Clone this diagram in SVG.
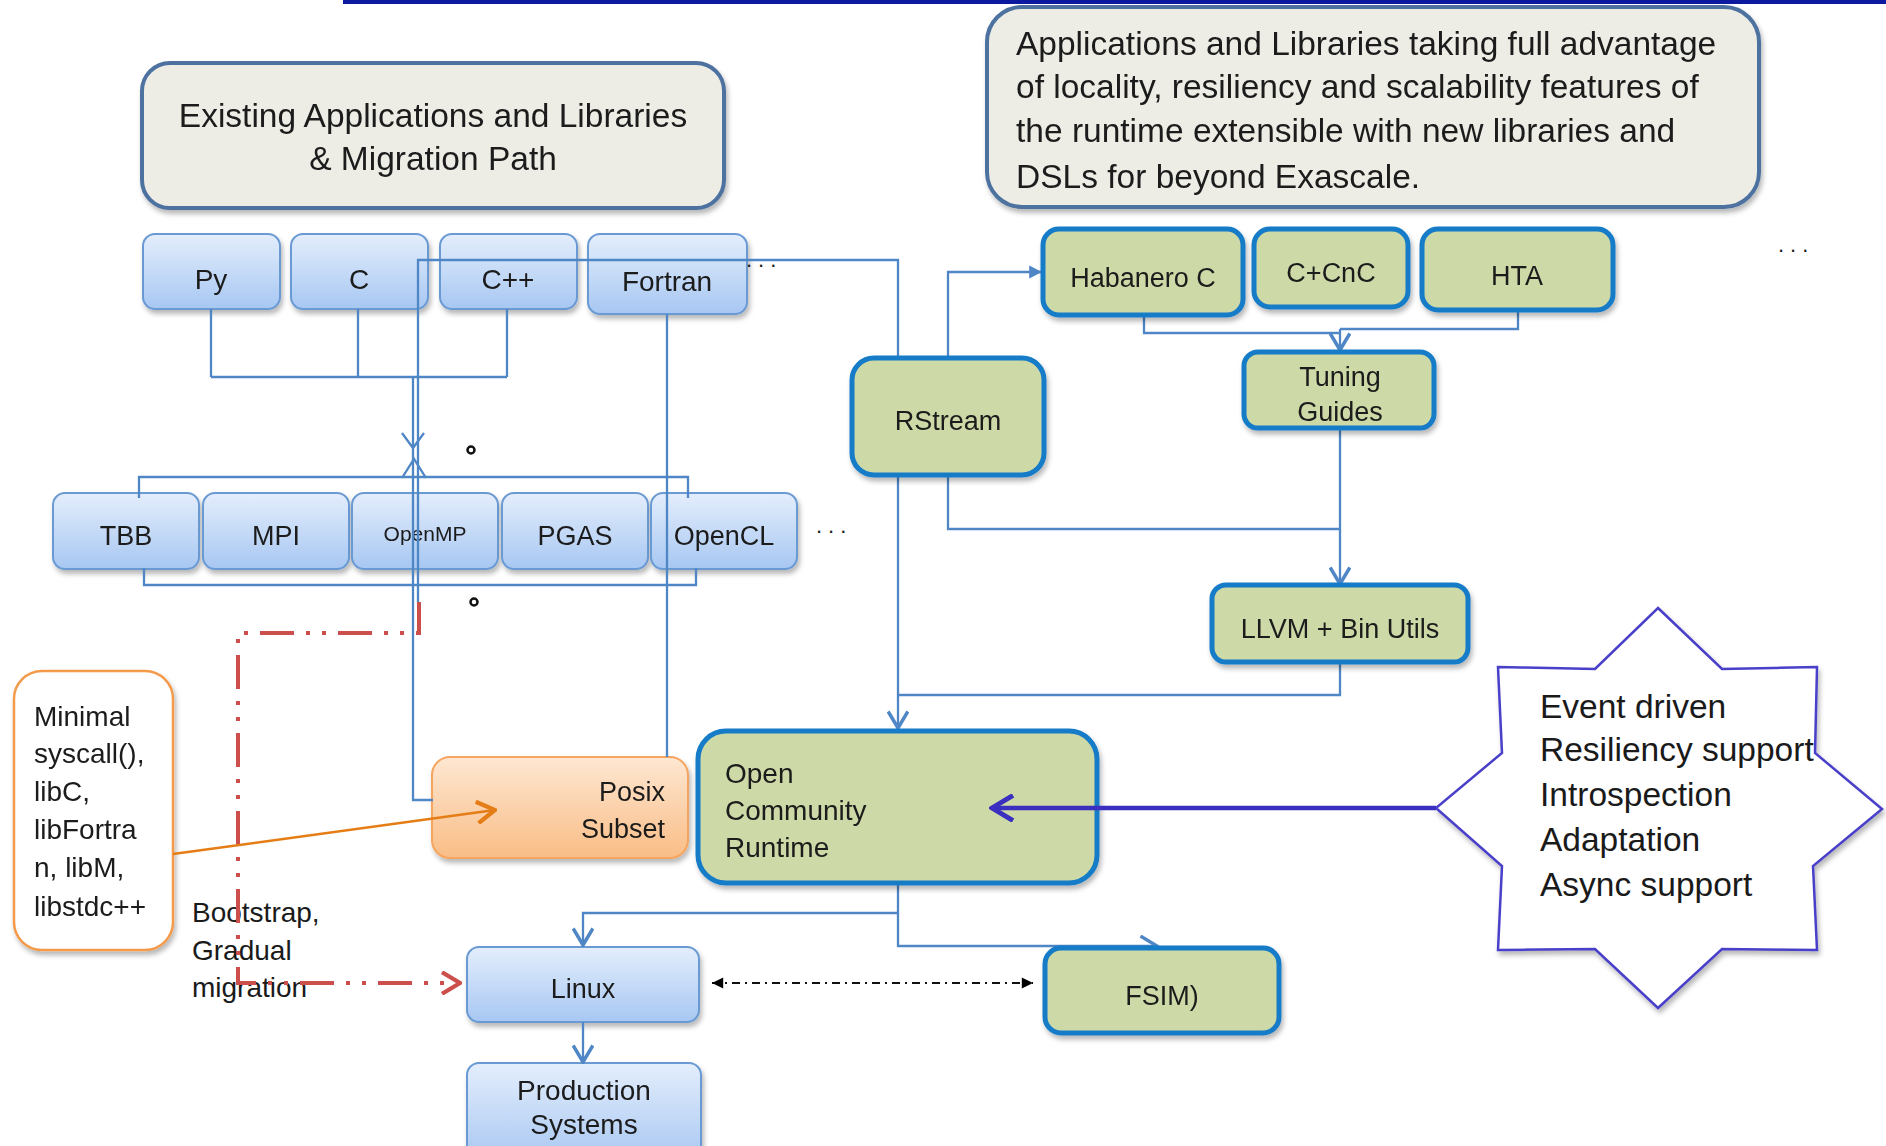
<svg xmlns="http://www.w3.org/2000/svg" width="1886" height="1146" viewBox="0 0 1886 1146">
<defs>
<linearGradient id="gBlue" x1="0" y1="0" x2="0" y2="1"><stop offset="0" stop-color="#e4eefc"/><stop offset="1" stop-color="#a7c7f2"/></linearGradient>
<linearGradient id="gOrange" x1="0" y1="0" x2="0" y2="1"><stop offset="0" stop-color="#fee7d2"/><stop offset="1" stop-color="#f9bd86"/></linearGradient>
<filter id="sh" x="-10%" y="-10%" width="130%" height="140%"><feDropShadow dx="2" dy="4" stdDeviation="2.5" flood-color="#000" flood-opacity="0.28"/></filter>
<marker id="aBlue" viewBox="0 0 20 20" refX="18" refY="10" markerWidth="22" markerHeight="22" markerUnits="userSpaceOnUse" orient="auto"><path d="M3,1 L18,10 L3,19" fill="none" stroke="#4f86c6" stroke-width="3.2"/></marker>
<marker id="aBlueFill" viewBox="0 0 20 20" refX="18" refY="10" markerWidth="16" markerHeight="16" markerUnits="userSpaceOnUse" orient="auto"><path d="M2,2 L18,10 L2,18 Z" fill="#4f86c6"/></marker>
<marker id="aBlack" viewBox="0 0 20 20" refX="18" refY="10" markerWidth="14" markerHeight="14" markerUnits="userSpaceOnUse" orient="auto-start-reverse"><path d="M2,2 L18,10 L2,18 Z" fill="#000"/></marker>
<marker id="aRed" viewBox="0 0 20 20" refX="18" refY="10" markerWidth="24" markerHeight="24" markerUnits="userSpaceOnUse" orient="auto"><path d="M3,1 L18,10 L3,19" fill="none" stroke="#cc4f4b" stroke-width="3.5"/></marker>
<marker id="aOrange" viewBox="0 0 20 20" refX="18" refY="10" markerWidth="24" markerHeight="24" markerUnits="userSpaceOnUse" orient="auto"><path d="M3,1 L18,10 L3,19" fill="none" stroke="#e57d17" stroke-width="3.5"/></marker>
<marker id="aPurple" viewBox="0 0 20 20" refX="18" refY="10" markerWidth="28" markerHeight="28" markerUnits="userSpaceOnUse" orient="auto"><path d="M3,1 L18,10 L3,19" fill="none" stroke="#3b2fc0" stroke-width="3.5"/></marker>
<style>
text{font-family:"Liberation Sans",Arial,sans-serif;fill:#1a1a1a}
.big{font-size:33.5px}
.mid{font-size:28px}
.lab{font-size:27px}
.c{text-anchor:middle}
.blue rect{fill:url(#gBlue);stroke:#6b9ad3;stroke-width:2}
.green rect{fill:#cdd9a7;stroke:#137bc8;stroke-width:5}
.gray rect{fill:#edede6;stroke:#4d72a0;stroke-width:4}
.conn{fill:none;stroke:#4f86c6;stroke-width:2.3}
.dots{font-size:22px;letter-spacing:6px}
</style>
</defs>
<rect x="343" y="0" width="1543" height="4" fill="#0b1a9f"/>

<g id="existing" class="gray" filter="url(#sh)"><rect x="142" y="63" width="582" height="145" rx="28"/>
<text class="big c" x="433" y="127">Existing Applications and Libraries</text>
<text class="big c" x="433" y="170">&amp; Migration Path</text></g>

<g id="future" class="gray" filter="url(#sh)"><rect x="987" y="7" width="772" height="200" rx="35"/>
<text class="big" x="1016" y="55">Applications and Libraries taking full advantage</text>
<text class="big" x="1016" y="98">of locality, resiliency and scalability features of</text>
<text class="big" x="1016" y="142">the runtime extensible with new libraries and</text>
<text class="big" x="1016" y="188">DSLs for beyond Exascale.</text></g>

<g id="py" class="blue" filter="url(#sh)"><rect x="143" y="234" width="137" height="75" rx="12"/><text class="mid c" x="211" y="289">Py</text></g>
<g id="c" class="blue" filter="url(#sh)"><rect x="291" y="234" width="137" height="75" rx="12"/><text class="mid c" x="359" y="289">C</text></g>
<g id="cpp" class="blue" filter="url(#sh)"><rect x="440" y="234" width="137" height="75" rx="12"/><text class="mid c" x="508" y="289">C++</text></g>
<g id="fortran" class="blue" filter="url(#sh)"><rect x="588" y="234" width="159" height="80" rx="12"/><text class="mid c" x="667" y="291">Fortran</text></g>
<text class="dots" x="746" y="267">...</text>

<g id="tbb" class="blue" filter="url(#sh)"><rect x="53" y="493" width="146" height="76" rx="12"/><text class="lab c" x="126" y="545">TBB</text></g>
<g id="mpi" class="blue" filter="url(#sh)"><rect x="203" y="493" width="146" height="76" rx="12"/><text class="lab c" x="276" y="545">MPI</text></g>
<g id="openmp" class="blue" filter="url(#sh)"><rect x="352" y="493" width="146" height="76" rx="12"/><text class="c" style="font-size:21px" x="425" y="541">OpenMP</text></g>
<g id="pgas" class="blue" filter="url(#sh)"><rect x="502" y="493" width="146" height="76" rx="12"/><text class="lab c" x="575" y="545">PGAS</text></g>
<g id="opencl" class="blue" filter="url(#sh)"><rect x="651" y="493" width="146" height="76" rx="12"/><text class="lab c" x="724" y="545">OpenCL</text></g>
<text class="dots" x="816" y="533">...</text>

<g id="minimal" filter="url(#sh)"><rect x="14" y="671" width="159" height="279" rx="28" fill="#fff" stroke="#f39a4c" stroke-width="2.5"/>
<text class="mid" x="34" y="726">Minimal</text>
<text class="mid" x="34" y="763">syscall(),</text>
<text class="mid" x="34" y="801">libC,</text>
<text class="mid" x="34" y="839">libFortra</text>
<text class="mid" x="34" y="877">n, libM,</text>
<text class="mid" x="34" y="916">libstdc++</text></g>

<g id="posix" filter="url(#sh)"><rect x="432" y="757" width="256" height="101" rx="18" fill="url(#gOrange)" stroke="#f5a55f" stroke-width="2"/>
<text class="lab" text-anchor="end" x="665" y="801">Posix</text>
<text class="lab" text-anchor="end" x="665" y="838">Subset</text></g>

<g id="bootstrap-label">
<text class="mid" x="192" y="922">Bootstrap,</text>
<text class="mid" x="192" y="960">Gradual</text>
<text class="mid" x="192" y="997">migration</text></g>

<g id="linux" class="blue" filter="url(#sh)"><rect x="467" y="947" width="232" height="75" rx="12"/><text class="lab c" x="583" y="998">Linux</text></g>
<g id="production" class="blue" filter="url(#sh)"><rect x="467" y="1063" width="234" height="100" rx="12"/>
<text class="mid c" x="584" y="1100">Production</text><text class="mid c" x="584" y="1134">Systems</text></g>

<g id="connectors">
<path class="conn" d="M211,309 V377 M358,309 V377 M507,309 V377 M211,377 H507 M413,377 V800 H433"/>
<path class="conn" stroke-width="4" d="M402,433 L413,448 L424,433 M402,478 L414,459 L426,478"/>
<path class="conn" d="M418,602 V260 H898 V357"/>
<path class="conn" d="M898,475 V728" marker-end="url(#aBlue)"/>
<path class="conn" d="M667,314 V757"/>
<path class="conn" d="M139,498 V477 H688 V498 M144,568 V585 H696 V568"/>
<path class="conn" d="M948,358 V272 H1042" marker-end="url(#aBlueFill)"/>
<path class="conn" d="M1144,315 V333 H1340 M1518,310 V329 H1340"/>
<path class="conn" d="M1340,329 V350" marker-end="url(#aBlue)"/>
<path class="conn" d="M948,475 V529 H1340 M1340,428 V584" marker-end="url(#aBlue)"/>
<path class="conn" d="M1340,662 V695 H898"/>
<path class="conn" d="M898,883 V946 H1157" marker-end="url(#aBlue)"/>
<path class="conn" d="M898,913 H583 V945" marker-end="url(#aBlue)"/>
<path class="conn" d="M583,1022 V1062" marker-end="url(#aBlue)"/>
<path d="M712,983 H1033" fill="none" stroke="#111" stroke-width="2" stroke-dasharray="8 5 2 5" marker-start="url(#aBlack)" marker-end="url(#aBlack)"/>
<path d="M419,602 V633 H238 V983 H460" fill="none" stroke="#cc4f4b" stroke-width="4" stroke-dasharray="34 12 4 12 4 12" marker-end="url(#aRed)"/>
<path d="M173,854 L495,810" fill="none" stroke="#e57d17" stroke-width="2.5" marker-end="url(#aOrange)"/>
<circle cx="471" cy="450" r="3.5" fill="none" stroke="#111" stroke-width="2.5"/>
<circle cx="474" cy="602" r="3.5" fill="none" stroke="#111" stroke-width="2.5"/>
</g>

<g id="habanero" class="green" filter="url(#sh)"><rect x="1043" y="229" width="200" height="86" rx="16"/><text class="lab c" x="1143" y="287">Habanero C</text></g>
<g id="cpcnc" class="green" filter="url(#sh)"><rect x="1254" y="229" width="154" height="78" rx="16"/><text class="lab c" x="1331" y="282">C+CnC</text></g>
<g id="hta" class="green" filter="url(#sh)"><rect x="1422" y="229" width="191" height="81" rx="16"/><text class="lab c" x="1517" y="285">HTA</text></g>
<text class="dots" x="1778" y="252">...</text>
<g id="tuning" class="green" filter="url(#sh)"><rect x="1244" y="352" width="190" height="76" rx="14"/>
<text class="lab c" x="1340" y="386">Tuning</text><text class="lab c" x="1340" y="421">Guides</text></g>
<g id="rstream" class="green" filter="url(#sh)"><rect x="852" y="358" width="192" height="117" rx="22"/><text class="lab c" x="948" y="430">RStream</text></g>
<g id="llvm" class="green" filter="url(#sh)"><rect x="1212" y="585" width="256" height="77" rx="14"/><text class="lab c" x="1340" y="638">LLVM + Bin Utils</text></g>
<g id="ocr" class="green" filter="url(#sh)"><rect x="698" y="731" width="399" height="152" rx="28"/>
<text class="mid" x="725" y="783">Open</text><text class="mid" x="725" y="820">Community</text><text class="mid" x="725" y="857">Runtime</text></g>
<g id="fsim" class="green" filter="url(#sh)"><rect x="1045" y="948" width="234" height="85" rx="16"/><text class="lab c" x="1162" y="1005">FSIM)</text></g>

<g id="features">
<polygon points="1658,608 1722,669 1817,667 1815,753 1882,809 1813,866 1817,950 1722,949 1658,1008 1595,949 1498,950 1502,866 1436,808 1502,753 1498,667 1595,669" fill="#fff" stroke="#4a3fc9" stroke-width="2.5" filter="url(#sh)"/>
<text class="big" x="1540" y="718">Event driven</text>
<text class="big" x="1540" y="761">Resiliency support</text>
<text class="big" x="1540" y="806">Introspection</text>
<text class="big" x="1540" y="851">Adaptation</text>
<text class="big" x="1540" y="896">Async support</text>
</g>
<path d="M1436,808 H992" fill="none" stroke="#3b2fc0" stroke-width="4.5" marker-end="url(#aPurple)"/>
</svg>
